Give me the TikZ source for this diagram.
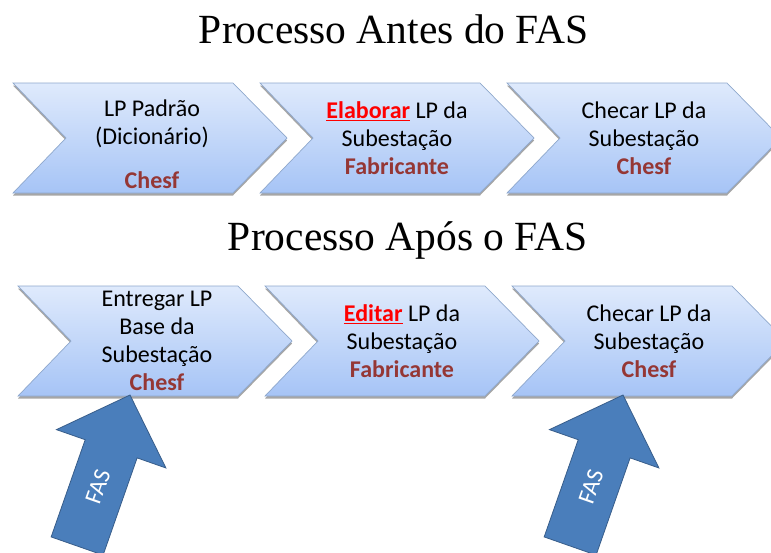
\documentclass[tikz,border=0pt]{standalone}
\usepackage{fontspec}
\setmainfont{Carlito}
\newfontfamily\serifa{Liberation Serif}
\usepackage{xcolor}
\usetikzlibrary{positioning, calc, shadows}

\definecolor{azulclaro}{HTML}{DFEAFC}
\definecolor{azulmedio}{HTML}{A6C4F6}
\definecolor{bordaseta}{HTML}{8FA8CC}
\definecolor{chesf}{HTML}{953735}
\definecolor{azulfas}{HTML}{4A7EBB}
\definecolor{bordafas}{HTML}{385D8A}

\begin{document}
\begin{tikzpicture}[x=1pt,y=-1pt,
    etapa/.style={draw=bordaseta,line width=0.7pt,top color=azulclaro,bottom color=azulmedio,
      drop shadow={shadow xshift=0pt,shadow yshift=-2.5pt,opacity=0.35,fill=black}},
    texto/.style={font=\fontsize{24}{28}\selectfont,align=center,text=black},
    titulo/.style={font=\serifa\fontsize{41.5}{48}\selectfont,anchor=base},
    seta/.style={fill=azulfas,draw=bordafas,line width=0.8pt,line join=miter}]
      \useasboundingbox (0,0) rectangle (771,552);
      \clip (0,0) rectangle (771,552);
      \node[titulo] (antes) at (394,43) {Processo Antes do FAS};
      \node[titulo] (apos) at (408,250) {Processo Após o FAS};
      % setas das etapas
      \foreach \x/\y in {13/83,260/83,507/83,18/286,265/286,512/286}
        \draw[etapa] (\x,\y)--++(220,0)--++(54,55)--++(-54,55)--++(-220,0)--++(53,-55)--cycle;
      % antes do FAS
      \node[texto] (padrao) at (152,144) {LP Padrão\\(Dicionário)\\[16pt]\textbf{\textcolor{chesf}{Chesf}}};
      \node[texto] (elaborar) at (397,138) {\textcolor{red}{\underline{\textbf{Elaborar}}} LP da\\Subestação\\\textbf{\textcolor{chesf}{Fabricante}}};
      \node[texto] (checar1) at (644,138) {Checar LP da\\Subestação\\\textbf{\textcolor{chesf}{Chesf}}};
      % após o FAS
      \node[texto] (entregar) at (157,341) {Entregar LP\\Base da\\Subestação\\\textbf{\textcolor{chesf}{Chesf}}};
      \node[texto] (editar) at (402,341) {\textcolor{red}{\underline{\textbf{Editar}}} LP da\\Subestação\\\textbf{\textcolor{chesf}{Fabricante}}};
      \node[texto] (checar2) at (649,341) {Checar LP da\\Subestação\\\textbf{\textcolor{chesf}{Chesf}}};
      % setas FAS
      \foreach \p/\n in {130/fas1,623/fas2}{
        \begin{scope}[shift={(\p,395)},rotate=-19.3]
          \draw[seta] (0,0)--(58,57)--(27.5,57)--(27.5,160)--(-27.5,160)--(-27.5,57)--(-58,57)--cycle;
          \node[font=\fontsize{24}{26}\selectfont,text=white,rotate=70.7,inner sep=0pt] (\n) at (0,97) {FAS};
        \end{scope}}
    \end{tikzpicture}
\end{document}
